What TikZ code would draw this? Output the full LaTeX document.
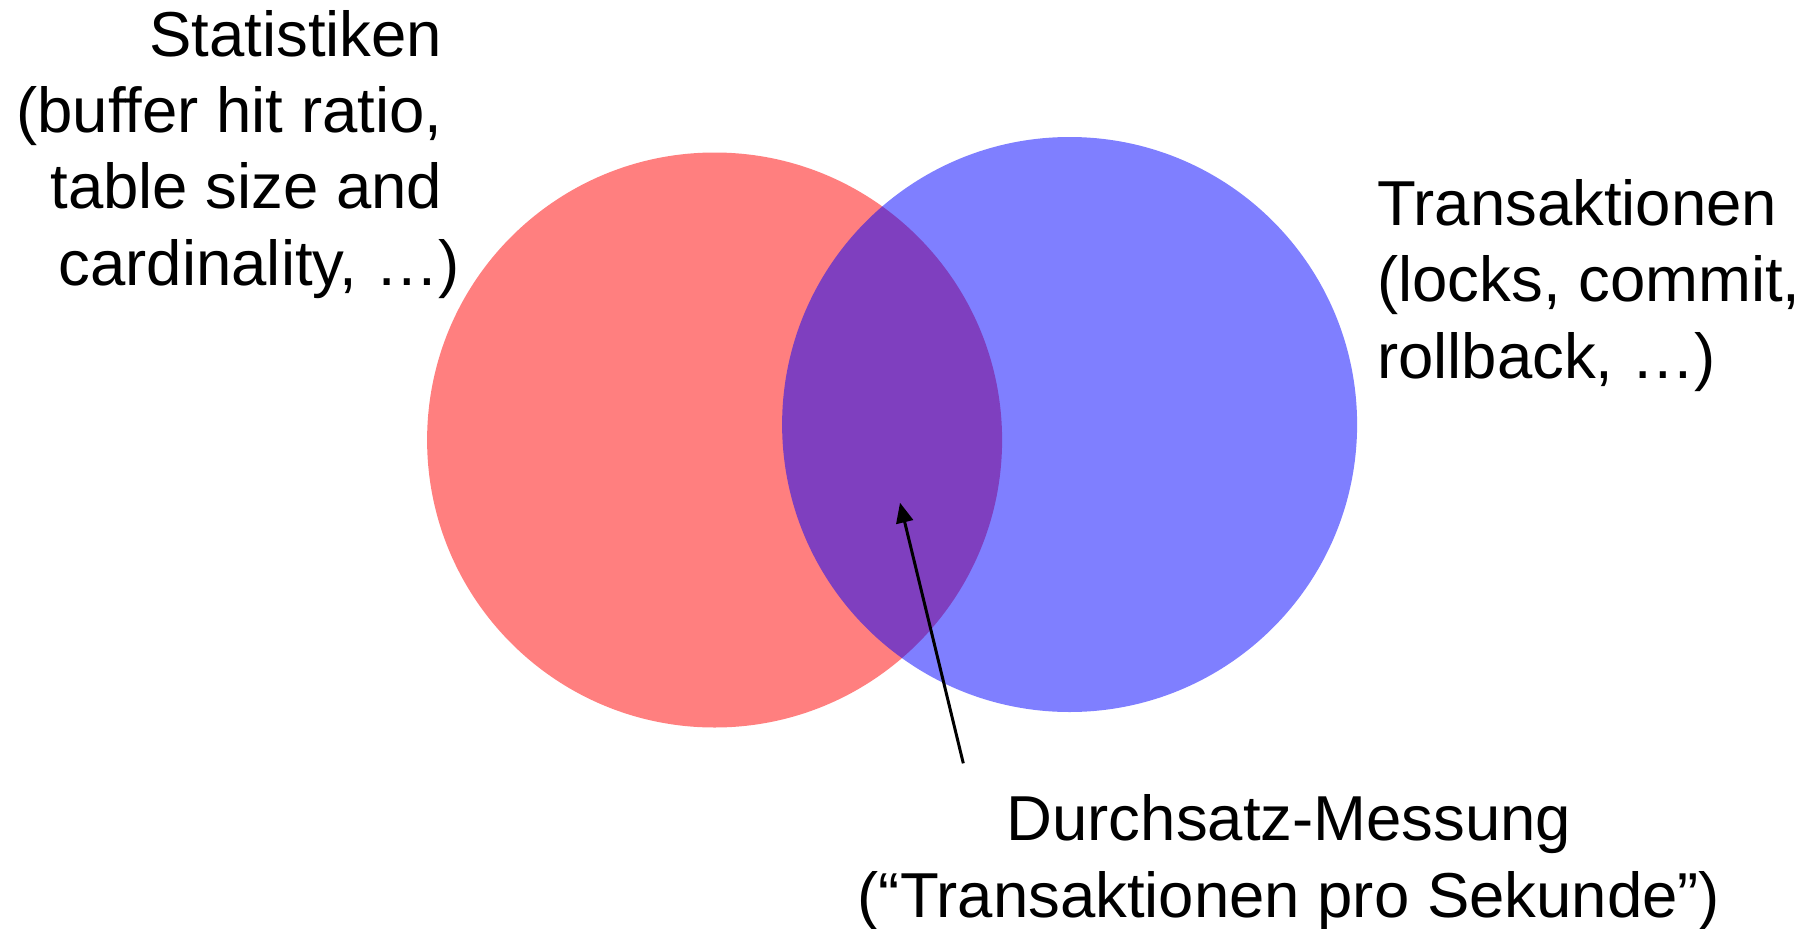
\documentclass[tikz,border=0pt]{standalone}
\usepackage{fontspec}
\setmainfont{Liberation Sans}
\usetikzlibrary{arrows.meta}
\begin{document}
\begin{tikzpicture}[x=1pt,y=-1pt,
  label text/.style={inner sep=0pt, font=\fontsize{63.5}{76.3}\selectfont},
  setfill/.style={fill=#1, fill opacity=0.5, draw=none},
  pointer/.style={line width=3pt, -{Triangle[length=20pt,width=17pt]}}]
  \useasboundingbox (0,0) rectangle (1816,929);
  % the two sets
  \fill[setfill=red]  (714.6,440) circle[radius=287.5];
  \fill[setfill=blue] (1069.6,424.5) circle[radius=287.5];
  % labels (base anchor sits on the last line)
  \node[label text, align=right, anchor=base east] (stat) at (460,285)
    {Statistiken\hbox{\kern17.5pt}\\(buffer hit ratio,\hbox{\kern17.5pt}\\table size and\hbox{\kern17.5pt}\\cardinality, …)};
  \node[label text, align=left, anchor=base west] (trans) at (1377,378)
    {Transaktionen\\(locks, commit,\\rollback, …)};
  \node[label text, align=center, anchor=base] (meas) at (1289,917)
    {Durchsatz-Messung\\(“Transaktionen pro Sekunde”)};
  % pointer into the intersection
  \coordinate (tail) at (963.3,763.3);
  \coordinate (tip) at (900,502.7);
  \draw[pointer] (tail) -- (tip);
\end{tikzpicture}
\end{document}
